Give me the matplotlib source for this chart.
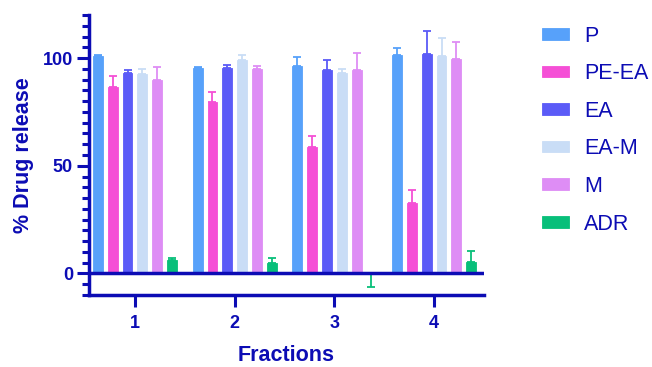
import matplotlib
matplotlib.use("Agg")
import matplotlib.pyplot as plt
import numpy as np
from matplotlib.ticker import MultipleLocator

plt.rcParams['font.family'] = ['Liberation Sans', 'DejaVu Sans']

fractions = ["1", "2", "3", "4"]
series = ["P", "PE-EA", "EA", "EA-M", "M", "ADR"]
colors = ["#57a1fa", "#f54fd6", "#5b5bf7", "#c9ddf6", "#de8df5", "#08bf7a"]

P_mean = [100.8, 95.2, 96.3, 101.4]
P_err = [0.7, 0.6, 4.3, 3.4]
PEEA_mean = [86.5, 79.4, 58.5, 32.9]
PEEA_err = [5.1, 4.9, 5.2, 6.0]
EA_mean = [93.0, 95.2, 94.4, 101.7]
EA_err = [1.6, 1.4, 4.6, 11.0]
EAM_mean = [92.7, 98.9, 93.0, 100.8]
EAM_err = [2.2, 2.6, 2.0, 8.4]
M_mean = [90.0, 94.7, 94.4, 99.8]
M_err = [6.0, 1.7, 7.8, 7.8]
ADR_mean = [6.4, 5.0, -0.4, 5.4]
ADR_err = [0.6, 2.1, 5.8, 5.0]

means = [P_mean, PEEA_mean, EA_mean, EAM_mean, M_mean, ADR_mean]
errs = [P_err, PEEA_err, EA_err, EAM_err, M_err, ADR_err]

axis_color = "#0c0cb4"
text_color = "#0c0cb4"

fig = plt.figure(figsize=(6.52, 3.67), dpi=100)
ax = fig.add_axes([89/652, 1-295/367, (484-89)/652, (295-15)/367])

x = np.arange(1, len(fractions) + 1)
step = 0.148
width = 0.10
for i, (name, m, e, c) in enumerate(zip(series, means, errs, colors)):
    pos = x + (i - 2.5) * step
    m = np.array(m)
    e = np.array(e)
    ax.bar(pos, m, width=width, color=c, edgecolor=c, linewidth=0.6, label=name, zorder=2)
    lower = np.where(m < 0, e, 0)
    upper = np.where(m >= 0, e, 0)
    ax.errorbar(pos, m, yerr=[lower, upper], fmt='none', ecolor=c,
                elinewidth=1.3, capsize=3, capthick=1.3, zorder=3)

ax.axhline(0, color=axis_color, lw=2.5, zorder=4)

ax.set_xlim(0.54, 4.5)
ax.set_ylim(-10, 120)
ax.set_xticks(x)
ax.set_xticklabels(fractions)
ax.yaxis.set_major_locator(MultipleLocator(50))
ax.yaxis.set_minor_locator(MultipleLocator(5))
ax.set_yticks([0, 50, 100])

for s in ['top', 'right']:
    ax.spines[s].set_visible(False)
for s in ['left', 'bottom']:
    ax.spines[s].set_color(axis_color)
    ax.spines[s].set_linewidth(2.5)

ax.tick_params(axis='both', which='major', length=8.5, width=2.2, color=axis_color,
               labelcolor=text_color, labelsize=13)
ax.tick_params(axis='x', which='major', pad=6)
ax.tick_params(axis='y', which='major', pad=3)
ax.tick_params(axis='y', which='minor', length=5, width=2.2, color=axis_color)
ax.tick_params(axis='x', which='minor', length=0)
for lab in ax.get_xticklabels() + ax.get_yticklabels():
    lab.set_fontweight('bold')

ax.set_xlabel("Fractions", fontsize=15.5, fontweight='bold', color=text_color, labelpad=9)
ax.set_ylabel("% Drug release", fontsize=15.5, fontweight='bold', color=text_color, labelpad=6)

leg = ax.legend(loc='upper left', bbox_to_anchor=(1.147, 0.962), frameon=False,
                fontsize=15.5, handlelength=1.27, handleheight=0.45, labelspacing=0.77,
                handletextpad=0.68, borderaxespad=0.0, borderpad=0.0)
for t in leg.get_texts():
    t.set_color(text_color)

fig.savefig("out.png", dpi=100)
